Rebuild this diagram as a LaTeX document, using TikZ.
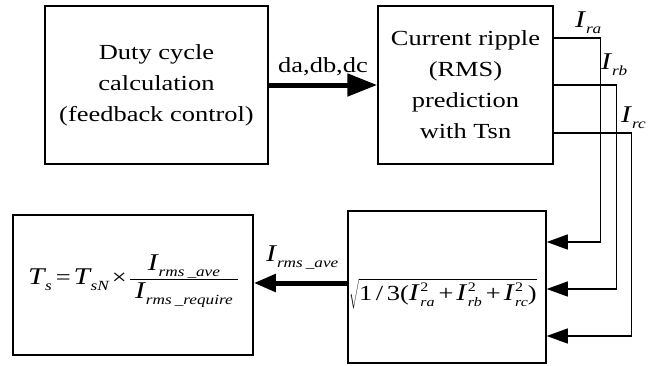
\documentclass[tikz,border=0pt]{standalone}
\usepackage{fontspec}
\setmainfont[FakeStretch=1.23]{Liberation Serif}
\usetikzlibrary{arrows.meta}
\newcommand\subtx[2][14]{\raisebox{-6pt}{\fontsize{#1}{#1}\selectfont\itshape #2}}
\newcommand\bigI{{\fontsize{24}{26}\selectfont\itshape I}}
\newcommand\bigT{{\fontsize{24}{26}\selectfont\itshape T}}
\newcommand\Ilab[2][14]{\bigI\kern1pt\subtx[#1]{#2}}
\newcommand\Tlab[2][14]{\bigT\kern0.5pt\subtx[#1]{#2}}
\newcommand\Isq[1]{\bigI\kern1.5pt\rlap{\raisebox{9pt}{\fontsize{13}{13}\selectfont 2}}\subtx[13]{#1}}
\tikzset{
  box/.style={draw, line width=1.5pt, inner sep=0pt, align=center, font=\fontsize{21.5}{31}\selectfont},
  lab/.style={inner sep=0pt, font=\fontsize{21.5}{26}\selectfont},
  thinline/.style={line width=1.3pt},
  thinarrow/.style={thinline, -{Triangle[length=21pt,width=15pt]}},
  thickarrow/.style={line width=5pt, -{Triangle[length=30pt,width=22pt]}},
  rmsarrow/.style={line width=5pt, -{Triangle[length=22pt,width=17pt]}}
}
\begin{document}
\begin{tikzpicture}[x=1pt,y=-1pt]
\useasboundingbox (0,0) rectangle (649,365);
\fill[white] (0,0) rectangle (649,365);
% boxes
\node[box, minimum width=223pt, minimum height=158pt] (b1) at (156.5,85) {Duty cycle\\calculation\\(feedback control)};
\node[box, minimum width=175pt, minimum height=158pt] (b2) at (465.5,85) {Current ripple\\(RMS)\\prediction\\with Tsn};
\node[box, minimum width=198pt, minimum height=152pt] (b3) at (447,287) {};
\node[box, minimum width=240pt, minimum height=140pt] (b4) at (133,285) {};
% contents
\node[lab, anchor=west] (form) at (28,281) {$\hbox{\Tlab[14]{s}\kern4pt=\kern3pt\Tlab[14]{sN}\kern3pt×\kern2pt}\displaystyle\frac{\hbox to 108pt{\hss\Ilab[14]{rms\hspace{3pt}\_ave}\hss}}{\hbox to 108pt{\hss\Ilab[14]{rms\hspace{3pt}\_require}\hss}}$};
\node[lab, anchor=base west] (sq) at (349,300) {$\sqrt{\hbox{1\,/\,3(\Isq{ra}\kern4pt+\kern3pt\Isq{rb}\kern4pt+\kern3pt\Isq{rc})}}$};
% connectors
\draw[thickarrow] (b1.east) -- (b2.west);
\node[lab, anchor=base] (dlab) at (323,72) {da,db,dc};
\draw[thinarrow] ([yshift=47pt]b2.east) -- ++(47,0) |- ([yshift=45pt]b3.east);
\draw[thinarrow] (b2.east) -- ++(63,0) |- ([yshift=-2pt]b3.east);
\draw[thinarrow] ([yshift=-48pt]b2.east) -- ++(78,0) |- ([yshift=-49pt]b3.east);
\draw[rmsarrow] ([yshift=4pt]b3.west) -- ([yshift=2pt]b4.east);
% labels
\node[lab, anchor=base west] (lra) at (575,27) {\Ilab{ra}};
\node[lab, anchor=base west] (lrb) at (601,69) {\Ilab{rb}};
\node[lab, anchor=base west] (lrc) at (621,122) {\Ilab{rc}};
\node[lab, anchor=base west] (lave) at (266,261) {\Ilab{rms\hspace{3pt}\_ave}};
\end{tikzpicture}
\end{document}
